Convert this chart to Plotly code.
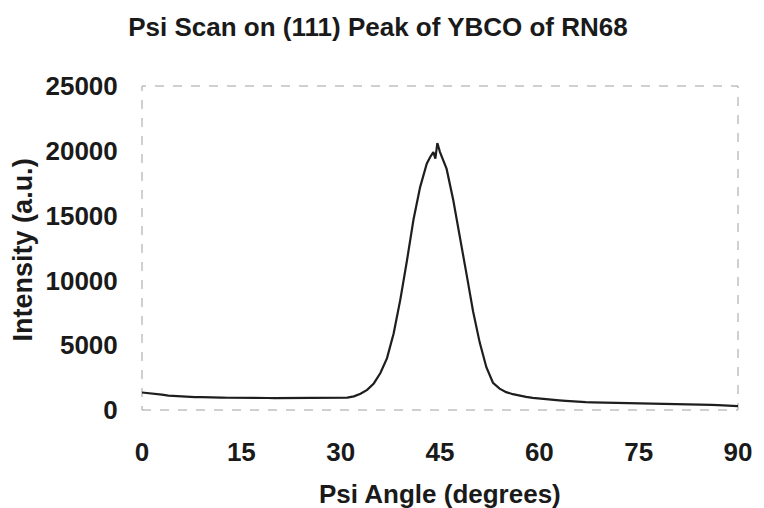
import plotly.graph_objects as go

# Psi angle (degrees) and intensity (a.u.)
psi_angle = [0, 1, 2, 3, 4, 5, 6, 7, 8, 9, 10, 11, 12, 13, 14, 15, 16, 17, 18, 19,
             20, 21, 22, 23, 24, 25, 26, 27, 28, 29, 30, 31, 32, 33, 34, 35, 36, 37,
             38, 39, 40, 41, 42, 43, 43.5, 44, 44.3, 44.6, 45, 45.5, 46, 47, 48, 49,
             50, 51, 52, 53, 54, 55, 56, 57, 58, 59, 60, 61, 62, 63, 64, 65, 66, 67,
             68, 69, 70, 71, 72, 73, 74, 75, 76, 77, 78, 79, 80, 81, 82, 83, 84, 85,
             86, 87, 88, 89, 90]
intensity = [1350, 1310, 1240, 1180, 1110, 1070, 1030, 1010, 990, 1000, 970, 960,
             955, 945, 950, 935, 930, 940, 920, 925, 915, 920, 910, 915, 905, 910,
             900, 905, 905, 915, 920, 950, 1050, 1250, 1550, 2050, 2850, 4000, 5900,
             8500, 11500, 14700, 17200, 19000, 19500, 19900, 19400, 20600, 19900,
             19200, 18600, 16200, 13200, 10500, 7600, 5200, 3300, 2100, 1650, 1380,
             1220, 1100, 1010, 940, 880, 830, 790, 750, 710, 660, 620, 605, 595, 585,
             575, 565, 560, 555, 550, 545, 540, 525, 510, 495, 480, 465, 450, 435,
             420, 405, 390, 370, 350, 330, 300]

x_ticks = [0, 15, 30, 45, 60, 75, 90]
y_ticks = [0, 5000, 10000, 15000, 20000, 25000]

title_text = "Psi Scan on (111) Peak of YBCO of RN68"
x_title = "Psi Angle (degrees)"
y_title = "Intensity (a.u.)"

FONT = "Liberation Sans, Arial, sans-serif"
INK = "#1a1a1a"

W, H = 756, 500
L, R, T, B = 134, 24, 78, 98
PW, PH = W - L - R, H - T - B

fig = go.Figure()
fig.add_trace(go.Scatter(
    x=psi_angle, y=intensity, mode="lines",
    line=dict(color="#1e1e1e", width=2.2),
    showlegend=False,
))

fig.update_layout(
    width=W, height=H,
    margin=dict(l=L, r=R, t=T, b=B),
    paper_bgcolor="white", plot_bgcolor="white",
    font=dict(family=FONT, color=INK),
    title=dict(text="<b>" + title_text + "</b>", x=370 / W, xanchor="center",
               y=1 - 19 / H, yanchor="middle", yref="container",
               font=dict(size=26, family=FONT, color=INK)),
)

fig.update_xaxes(
    range=[0, 90], tickvals=x_ticks, ticktext=[f"<b>{v}</b>" for v in x_ticks],
    showgrid=False, zeroline=False, showline=False,
    ticks="outside", ticklen=19, tickcolor="rgba(0,0,0,0)",
    tickfont=dict(size=26, family=FONT, color=INK),
)
fig.update_yaxes(
    range=[0, 25000], tickvals=y_ticks, ticktext=[f"<b>{v}</b>" for v in y_ticks],
    showgrid=False, zeroline=False, showline=False,
    ticks="outside", ticklen=18, tickcolor="rgba(0,0,0,0)",
    tickfont=dict(size=26, family=FONT, color=INK),
)

# faint dashed frame like the scanned original
fig.add_shape(type="rect", xref="paper", yref="paper", x0=0, y0=0, x1=1, y1=1,
              line=dict(color="#a0a0a0", width=1, dash="dash"), layer="below")

fig.add_annotation(text="<b>" + x_title + "</b>", xref="paper", yref="paper",
                   x=0.5, y=-84 / PH, xanchor="center", yanchor="middle",
                   showarrow=False, font=dict(size=26, family=FONT, color=INK))
fig.add_annotation(text="<b>" + y_title + "</b>", xref="paper", yref="paper",
                   x=-119 / PW, y=(402 - 242) / PH, xanchor="center", yanchor="middle",
                   textangle=-90, showarrow=False,
                   font=dict(size=27, family=FONT, color=INK))

fig.write_html("out.html")
